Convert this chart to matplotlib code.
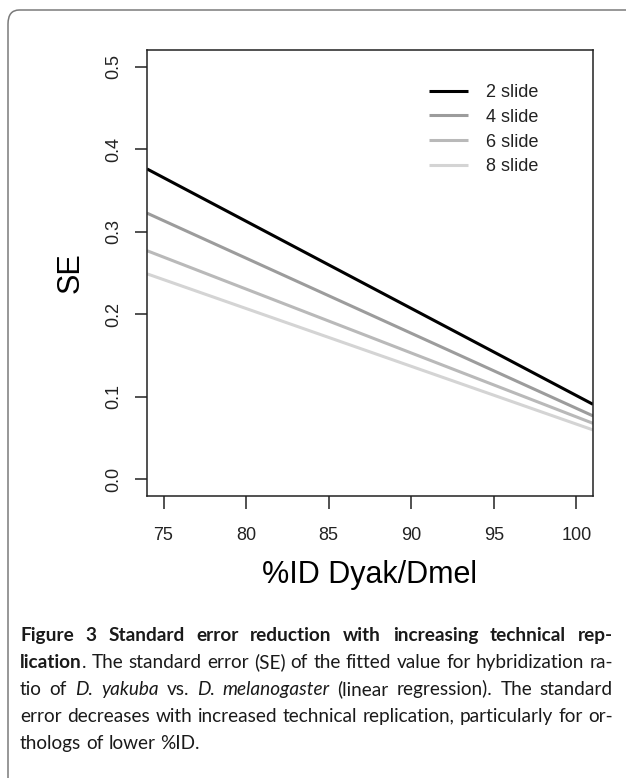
import matplotlib
matplotlib.use("Agg")
import matplotlib.pyplot as plt
from matplotlib.patches import FancyBboxPatch

# regression lines at the two edges of the plot region
pct_id = [74, 101]
se_2slide = [0.376, 0.091]
se_4slide = [0.3225, 0.077]
se_6slide = [0.277, 0.068]
se_8slide = [0.249, 0.060]

labels = ["2 slide", "4 slide", "6 slide", "8 slide"]
colors = ["#000000", "#9c9c9c", "#b9b9b9", "#d4d4d4"]

x_ticks = [75, 80, 85, 90, 95, 100]
y_ticks = [0.0, 0.1, 0.2, 0.3, 0.4, 0.5]

W, H = 626, 778
plt.rcParams["font.family"] = ["Liberation Sans", "DejaVu Sans"]

fig = plt.figure(figsize=(W / 100, H / 100), dpi=100)

# outer rounded frame (only top and left edges are visible in the crop)
frame = FancyBboxPatch((8 / W, -0.2), 1.2, 1 - 10 / H + 0.2,
                       boxstyle="round,pad=0,rounding_size=0.018",
                       transform=fig.transFigure, facecolor="none",
                       edgecolor="#7a7a7a", linewidth=1.1)
fig.patches.append(frame)

ax = fig.add_axes([147 / W, 1 - 496 / H, 446 / W, 446 / H])

for ys, lab, c in zip([se_2slide, se_4slide, se_6slide, se_8slide], labels, colors):
    ax.plot(pct_id, ys, color=c, lw=2.2, label=lab, solid_capstyle="butt")

ax.set_xlim(74, 101)
ax.set_ylim(-0.02, 0.52)
ax.set_xticks(x_ticks)
ax.set_yticks(y_ticks)
ax.set_xticklabels([str(v) for v in x_ticks])
ax.set_yticklabels(["%.1f" % v for v in y_ticks])

for s in ax.spines.values():
    s.set_linewidth(1.1)
    s.set_color("#222222")
ax.tick_params(axis="both", length=9, width=1.1, color="#222222",
               labelsize=13, labelcolor="#222222")
ax.tick_params(axis="x", pad=13)
ax.tick_params(axis="y", pad=9, labelrotation=90)
for t in ax.get_yticklabels():
    t.set_va("center")

ax.set_xlabel("%ID Dyak/Dmel", fontsize=22, labelpad=12)
ax.set_ylabel("SE", fontsize=22, labelpad=14)

leg = ax.legend(loc="upper left", bbox_to_anchor=(429 / W, 1 - 84 / H),
                bbox_transform=fig.transFigure, frameon=False, fontsize=13,
                handlelength=2.15, handletextpad=1.0, labelspacing=0.43,
                borderpad=0, borderaxespad=0)
for t in leg.get_texts():
    t.set_color("#222222")

# caption with mixed bold / regular / italic runs, justified like the journal
cap_font = ["Lato", "DejaVu Sans"]
reg = dict(weight="normal", style="normal")
bold = dict(weight="bold", style="normal")
ital = dict(weight="normal", style="italic")

caption = [
    [("Figure 3 Standard error reduction with increasing technical rep-", bold)],
    [("lication", bold), (". The standard error (SE) of the fitted value for hybridization ra-", reg)],
    [("tio of ", reg), ("D. yakuba", ital), (" vs. ", reg), ("D. melanogaster", ital),
     (" (linear regression). The standard", reg)],
    [("error decreases with increased technical replication, particularly for or-", reg)],
    [("thologs of lower %ID.", reg)],
]

renderer = fig.canvas.get_renderer()


def measure(txt, st, size):
    t = fig.text(0, 0, txt, family=cap_font, size=size, **st)
    w = t.get_window_extent(renderer).width
    t.remove()
    return w


def words_of(line):
    # split styled runs into words, each word being a list of (text, style)
    words, cur = [], []
    for txt, st in line:
        parts = txt.split(" ")
        for i, p in enumerate(parts):
            if i > 0:
                if cur:
                    words.append(cur)
                cur = []
            if p:
                cur.append((p, st))
    if cur:
        words.append(cur)
    return words


def natural_width(line, size):
    return sum(measure(txt, st, size) for txt, st in line)


left, right = 20, 613
base = 14.0
widest = max(natural_width(line, base) for line in caption)
cap_size = base * (right - left) / widest * 0.995

space_w = measure("a a", reg, cap_size) - measure("aa", reg, cap_size)
baseline = 641
for li, line in enumerate(caption):
    words = words_of(line)
    widths = [sum(measure(p, st, cap_size) for p, st in wd) for wd in words]
    if li < len(caption) - 1 and len(words) > 1:
        gap = (right - left - sum(widths)) / (len(words) - 1)
    else:
        gap = space_w
    x = left
    for wd, ww in zip(words, widths):
        xx = x
        for p, st in wd:
            fig.text(xx / W, 1 - baseline / H, p, family=cap_font, size=cap_size,
                     va="baseline", ha="left", color="#1a1a1a", **st)
            xx += measure(p, st, cap_size)
        x += ww + gap
    baseline += 27

fig.savefig("out.png", dpi=100)
